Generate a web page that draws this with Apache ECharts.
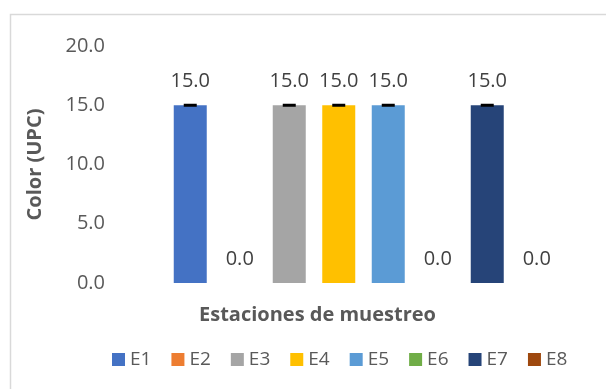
<!DOCTYPE html>
<html>
<head>
<meta charset="utf-8">
<script src="https://cdn.jsdelivr.net/npm/echarts@6/dist/echarts.min.js"></script>
<style>
  html, body { margin: 0; padding: 0; background: #fff; }
  #chart { width: 606px; height: 389px; }
</style>
</head>
<body>
<div id="chart"></div>
<script>
// Color (UPC) measured at each sampling station
const categories = ['Estaciones de muestreo'];
const stations = ['E1', 'E2', 'E3', 'E4', 'E5', 'E6', 'E7', 'E8'];
const colorValues = [15.0, 0.0, 15.0, 15.0, 15.0, 0.0, 15.0, 0.0];
const stationColors = ['#4472C4', '#ED7D31', '#A5A5A5', '#FFC000', '#5B9BD5', '#70AD47', '#264478', '#9E480E'];
const yTicks = { min: 0, max: 20, interval: 5 };

const FONT = '"Open Sans", "Liberation Sans", sans-serif';
const TEXT = '#595959';

const series = stations.map((name, i) => {
  const v = colorValues[i];
  const s = {
    name: name,
    type: 'bar',
    data: [v],
    barWidth: 33,
    barGap: '50%',
    itemStyle: { color: stationColors[i] },
    label: {
      show: true,
      position: 'top',
      distance: 14,
      formatter: p => p.value.toFixed(1),
      color: '#404040',
      fontFamily: FONT,
      fontSize: 20
    }
  };
  if (v > 0) {
    // error-bar cap at the top of the bar
    s.markPoint = {
      symbol: 'rect',
      symbolSize: [13, 3],
      itemStyle: { color: '#000' },
      label: { show: false },
      data: [{ type: 'max' }],
      silent: true,
      animation: false
    };
  }
  return s;
});

const chart = echarts.init(document.getElementById('chart'), null, { renderer: 'canvas' });
chart.setOption({
  animation: false,
  textStyle: { fontFamily: FONT },
  graphic: [{
    type: 'rect',
    left: 8, top: 12,
    shape: { width: 640, height: 420 },
    style: { fill: 'none', stroke: '#D9D9D9', lineWidth: 1.5 },
    silent: true
  }],
  grid: { left: 140, right: 19, top: 46, bottom: 106 },
  legend: {
    data: stations,
    top: 345,
    left: 107,
    icon: 'rect',
    itemWidth: 13,
    itemHeight: 13,
    itemGap: 20,
    textStyle: { color: TEXT, fontFamily: FONT, fontSize: 19 }
  },
  xAxis: {
    type: 'category',
    data: categories,
    axisLine: { show: false },
    axisTick: { show: false },
    axisLabel: { show: false },
    name: categories[0],
    nameLocation: 'middle',
    nameGap: 22,
    nameTextStyle: {
      color: TEXT, fontFamily: FONT, fontSize: 20, fontWeight: 'bold',
      padding: [0, 92, 0, 0]
    }
  },
  yAxis: {
    type: 'value',
    min: yTicks.min,
    max: yTicks.max,
    interval: yTicks.interval,
    axisLine: { show: false },
    axisTick: { show: false },
    splitLine: { show: false },
    axisLabel: {
      color: TEXT, fontFamily: FONT, fontSize: 20, margin: 35,
      formatter: v => v.toFixed(1)
    },
    name: 'Color (UPC)',
    nameLocation: 'middle',
    nameGap: 95,
    nameTextStyle: { color: TEXT, fontFamily: FONT, fontSize: 20, fontWeight: 'bold' }
  },
  series: series
});
</script>
</body>
</html>
